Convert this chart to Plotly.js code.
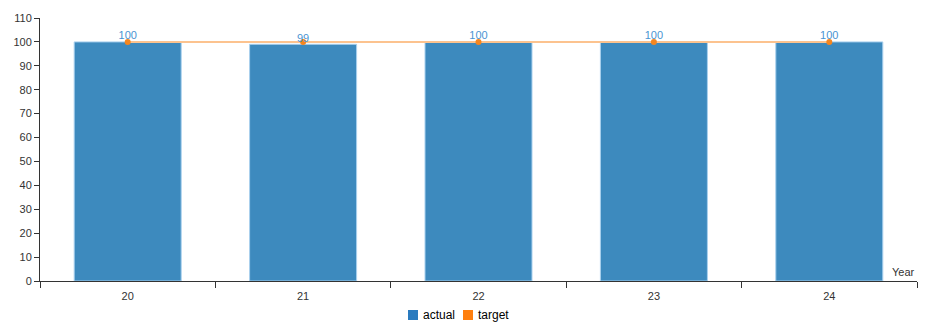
<!DOCTYPE html>
<html>
<head>
<meta charset="utf-8">
<script src="https://cdn.plot.ly/plotly-3.0.1.min.js"></script>
<style>html,body{margin:0;padding:0;background:#fff;}#chart{width:938px;height:327px;}</style>
</head>
<body>
<div id="chart"></div>
<script>
var years = ["20", "21", "22", "23", "24"];
var actual = [100, 99, 100, 100, 100];
var target = [100, 100, 100, 100, 100];
var labels = ["100", "99", "100", "100", "100"];
var legendNames = ["actual", "target"];
var legendColors = ["#2a7bbf", "#ff7f0e"];

var traces = [
  {
    type: "bar", name: "actual", x: years, y: actual,
    marker: {color: "#3d8abe", line: {color: "#a9d0ee", width: 1}},
    hoverinfo: "x+y"
  },
  {
    type: "scatter", mode: "lines+markers", name: "target", x: years, y: target,
    line: {color: "#fcc38f", width: 2},
    marker: {color: "#f5861f", size: 6}
  },
  {
    type: "scatter", mode: "text", x: years, y: actual, text: labels,
    textposition: "top center",
    textfont: {family: "Liberation Sans, Arial, sans-serif", size: 11, color: "#4a94d2"},
    hoverinfo: "skip"
  }
];

// legend drawn as shapes + annotations (container coords)
var shapes = [], annotations = [];
var lx = [408, 463];
for (var i = 0; i < legendNames.length; i++) {
  shapes.push({type: "rect", xref: "paper", yref: "paper",
    x0: (lx[i] - 40) / 877, x1: (lx[i] + 10 - 40) / 877,
    y0: (281 - 320) / 263, y1: (281 - 310) / 263,
    fillcolor: legendColors[i], line: {width: 0}});
  annotations.push({text: legendNames[i], xref: "paper", yref: "paper",
    x: (lx[i] + 13 - 40) / 877, y: (281 - 315) / 263, xanchor: "left", yanchor: "middle",
    showarrow: false, font: {size: 12, color: "#000"}});
}
annotations.push({text: "Year", xref: "paper", yref: "paper", x: 1, y: 0, xanchor: "right", yanchor: "bottom",
  showarrow: false, font: {size: 11, color: "#333"}, yshift: 1});

var layout = {
  width: 938, height: 327,
  margin: {l: 40, r: 21, t: 18, b: 46},
  paper_bgcolor: "#fff", plot_bgcolor: "#fff",
  font: {family: "Liberation Sans, Arial, sans-serif", size: 11, color: "#333"},
  bargap: 0.39,
  showlegend: false,
  xaxis: {
    type: "category", showgrid: false, zeroline: false, automargin: false,
    showline: true, linecolor: "#333", linewidth: 1,
    ticks: "outside", tickson: "boundaries", ticklen: 6, tickcolor: "#333",
    ticklabelstandoff: 5,
    tickfont: {size: 11, color: "#333"}
  },
  yaxis: {
    range: [0, 110], dtick: 10, showgrid: false, zeroline: false, automargin: false,
    showline: true, linecolor: "#333", linewidth: 1,
    ticks: "outside", ticklen: 5, tickcolor: "#333",
    tickfont: {size: 11, color: "#333"}
  },
  shapes: shapes,
  annotations: annotations
};

Plotly.newPlot("chart", traces, layout, {displayModeBar: false, staticPlot: true});
</script>
</body>
</html>
